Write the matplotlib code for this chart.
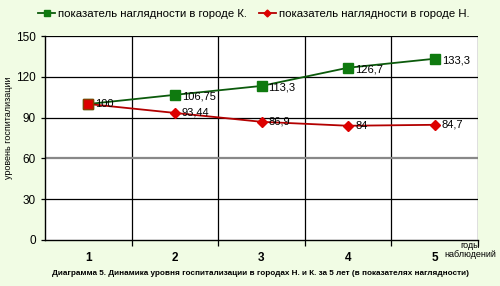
import matplotlib

matplotlib.use("Agg")
import matplotlib.pyplot as plt

years = [1, 2, 3, 4, 5]
city_k = [100, 106.75, 113.3, 126.7, 133.3]
city_n = [100, 93.44, 86.9, 84, 84.7]
labels_k = ["", "106,75", "113,3", "126,7", "133,3"]
labels_n = ["100", "93,44", "86,9", "84", "84,7"]
y_ticks = [0, 30, 60, 90, 120, 150]

BG = "#f1fce4"
GREEN = "#0f7a0f"
GREEN_LINE = "#0b5a0b"
RED = "#dd0000"
RED_LINE = "#b30000"

plt.rcParams["font.family"] = ["Liberation Sans", "DejaVu Sans"]

fig = plt.figure(figsize=(5, 2.86), dpi=100, facecolor=BG)
ax = fig.add_axes([0.09, 0.161, 0.866, 0.713])
ax.set_facecolor("white")

# grid: category boundaries and horizontal lines
for b in [1.5, 2.5, 3.5, 4.5, 5.5]:
    ax.axvline(b, color="black", lw=0.9, zorder=1)
for t in y_ticks[1:]:
    ax.axhline(t, color="#888888" if t == 60 else "black",
               lw=1.6 if t == 60 else 0.9, zorder=1)

ax.plot(years, city_k, color=GREEN_LINE, lw=1.3, marker="s", ms=6.5,
        mfc=GREEN, mec=GREEN, zorder=3, label="показатель наглядности в городе К.")
ax.plot(years, city_n, color=RED_LINE, lw=1.3, marker="D", ms=5,
        mfc=RED, mec=RED, zorder=3, label="показатель наглядности в городе Н.")
# first point shows both markers overlapped
ax.plot([1], [100], marker="s", ms=6.5, mfc=RED, mec="#8b3a00", ls="none", zorder=4)

for x, y, s in zip(years, city_k, labels_k):
    if s:
        ax.annotate(s, (x, y), xytext=(5, -1), textcoords="offset points",
                    fontsize=8, va="center", ha="left", zorder=5)
for x, y, s in zip(years, city_n, labels_n):
    ax.annotate(s, (x, y), xytext=(5, 0), textcoords="offset points",
                fontsize=8, va="center", ha="left", zorder=5)

ax.set_xlim(0.5, 5.5)
ax.set_ylim(0, 150)
ax.set_yticks(y_ticks)
ax.set_yticklabels([str(t) for t in y_ticks], fontsize=8.5)
ax.set_xticks(years)
ax.set_xticklabels([str(y) for y in years], fontsize=8.5, fontweight="bold")
ax.tick_params(axis="x", length=0, pad=9)
ax.tick_params(axis="y", length=3, width=0.9, direction="out")
ax.set_xticks([1.5, 2.5, 3.5, 4.5, 5.5], minor=True)
ax.tick_params(axis="x", which="minor", length=4, width=0.9, direction="out")

for side in ["top", "right"]:
    ax.spines[side].set_visible(False)
for side in ["left", "bottom"]:
    ax.spines[side].set_linewidth(1.0)
    ax.spines[side].set_color("black")

ax.set_ylabel("уровень госпитализации", fontsize=6.5)
ax.yaxis.set_label_coords(-0.075, 0.55)

fig.text(0.94, 0.125, "годы\nнаблюдений", fontsize=6.5, ha="center",
         va="center", linespacing=1.0)

leg = fig.legend(loc="center", bbox_to_anchor=(0.508, 0.95), ncol=2,
                 frameon=False, fontsize=8.2, handlelength=1.5,
                 handletextpad=0.3, columnspacing=1.0, markerscale=0.7)

fig.text(0.522, 0.045,
         "Диаграмма 5. Динамика уровня госпитализации в городах Н. и К. за 5 лет (в показателях наглядности)",
         fontsize=5.9, ha="center", va="center", fontweight="bold")

fig.savefig("out.png", dpi=100, facecolor=BG)
